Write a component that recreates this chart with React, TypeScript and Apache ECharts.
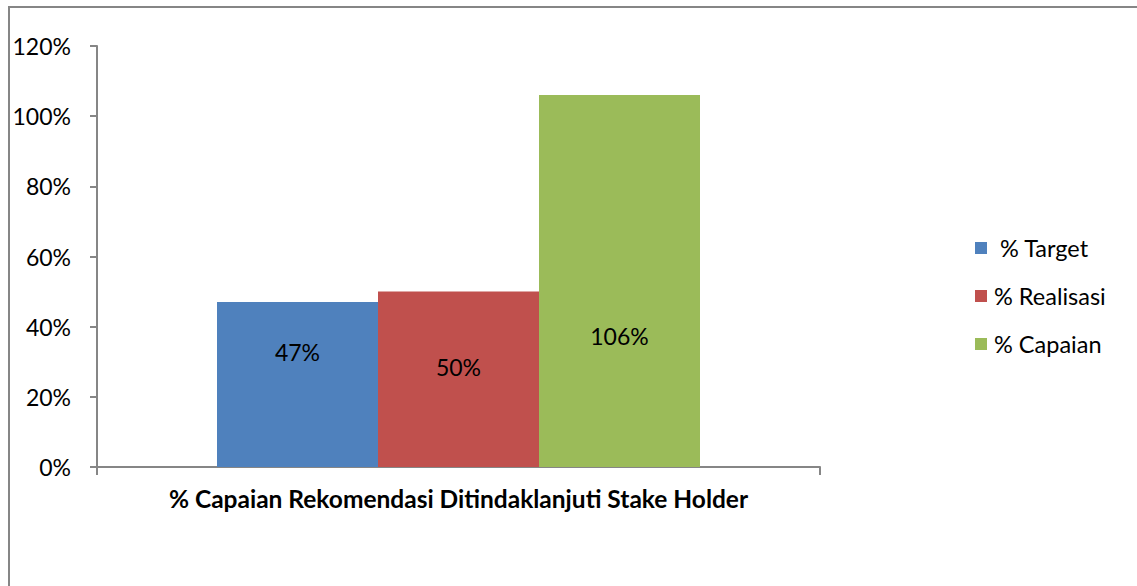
import React, { useEffect, useRef } from "react";
import * as echarts from "echarts";

const categories = ["% Capaian Rekomendasi Ditindaklanjuti Stake Holder"];
const seriesNames = [" % Target", "% Realisasi", "% Capaian"];
const targetValues = [47];
const realisasiValues = [50];
const capaianValues = [106];
const seriesColors = ["#4F81BD", "#C0504D", "#9BBB59"];
const labelOffsets = [-33, -12, 55];

const FONT = "Lato, 'Noto Sans', sans-serif";

export default function App() {
  const ref = useRef<HTMLDivElement>(null);
  useEffect(() => {
    if (!ref.current) return;
    const chart = echarts.init(ref.current, null, { renderer: "svg" });
    const values = [targetValues, realisasiValues, capaianValues];
    chart.setOption({
      animation: false,
      backgroundColor: "#ffffff",
      textStyle: { fontFamily: FONT },
      graphic: [
        {
          type: "rect",
          shape: { x: 9, y: 7, width: 1300, height: 800 },
          style: { fill: "none", stroke: "#868686", lineWidth: 2 },
          silent: true,
          z: 100,
        },
      ],
      grid: { left: 97, top: 46, right: 317, bottom: 119 },
      legend: {
        orient: "vertical",
        left: 970,
        top: 231,
        itemWidth: 12,
        itemHeight: 12,
        itemGap: 24,
        icon: "rect",
        textStyle: { fontFamily: FONT, fontSize: 23.5, color: "#000", padding: [0, 0, 0, 2] },
        data: seriesNames,
      },
      xAxis: {
        type: "category",
        data: categories,
        boundaryGap: true,
        axisLine: { lineStyle: { color: "#868686", width: 2 } },
        axisTick: { show: true, alignWithLabel: false, length: 8, lineStyle: { color: "#868686", width: 2 } },
        axisLabel: { fontFamily: FONT, fontSize: 24.5, fontWeight: "bold", color: "#000", margin: 19 },
      },
      yAxis: {
        type: "value",
        min: 0,
        max: 120,
        interval: 20,
        splitLine: { show: false },
        axisLine: { show: true, lineStyle: { color: "#868686", width: 2 } },
        axisTick: { show: true, length: 7, lineStyle: { color: "#868686", width: 2 } },
        axisLabel: { fontFamily: FONT, fontSize: 23, color: "#000", margin: 26, formatter: "{value}%" },
      },
      series: seriesNames.map((name, i) => ({
        name,
        type: "bar",
        data: values[i],
        barWidth: 161,
        barGap: "0%",
        itemStyle: { color: seriesColors[i] },
        label: {
          show: true,
          position: "inside",
          offset: [0, labelOffsets[i]],
          fontFamily: FONT,
          fontSize: 23,
          color: "#000",
          formatter: "{c}%",
        },
      })),
    });
    return () => chart.dispose();
  }, []);
  return (
    <div
      ref={ref}
      style={{ position: "fixed", left: 0, top: 0, width: 1137, height: 586 }}
    />
  );
}
